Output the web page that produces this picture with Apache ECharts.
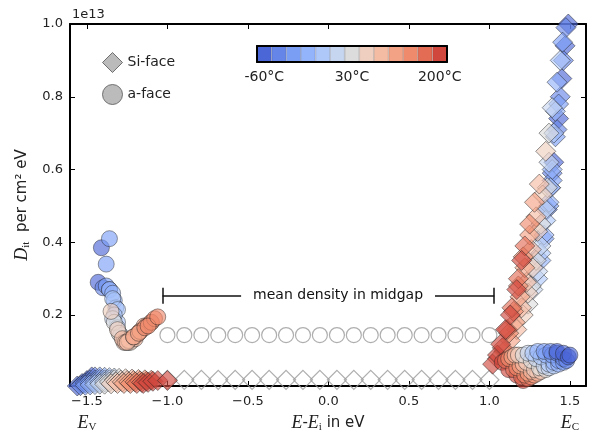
<!DOCTYPE html>
<html>
<head>
<meta charset="utf-8">
<script src="https://cdn.jsdelivr.net/npm/echarts@6/dist/echarts.min.js"></script>
<style>
  html, body { margin: 0; padding: 0; background: #fff; }
  #chart { width: 599px; height: 438px; }
</style>
</head>
<body>
<div id="chart"></div>
<script>
// temperature steps of the colour bar (coolwarm)
const tempLabels = ['-60°C', '-45°C', '-30°C', '-15°C', '0°C', '15°C', '30°C', '60°C', '90°C', '120°C', '150°C', '175°C', '200°C'];
const tempColors = ['#4b66d6', '#6585e8', '#7b9ef5', '#93b3fb', '#aec8fa', '#c6d6f1', '#dcdcdc',
                    '#efcfbf', '#f5bca4', '#f4a285', '#ef8a6c', '#e36c55', '#d0473d'];

// [E - Ei in eV, Dit in 1e13 per cm2 eV, temperature index]
const siFaceLow = [
  [-1.56, 0.005, 0], [-1.53, 0.012, 0], [-1.50, 0.020, 0], [-1.47, 0.030, 0],
  [-1.54, 0.006, 1], [-1.51, 0.013, 1], [-1.48, 0.022, 1], [-1.45, 0.030, 1],
  [-1.51, 0.007, 2], [-1.48, 0.014, 2], [-1.45, 0.022, 2], [-1.42, 0.030, 2],
  [-1.48, 0.008, 3], [-1.45, 0.015, 3], [-1.42, 0.023, 3], [-1.39, 0.029, 3],
  [-1.45, 0.009, 4], [-1.42, 0.015, 4], [-1.39, 0.022, 4], [-1.36, 0.028, 4],
  [-1.42, 0.010, 5], [-1.39, 0.016, 5], [-1.36, 0.022, 5], [-1.33, 0.027, 5],
  [-1.39, 0.010, 6], [-1.36, 0.016, 6], [-1.33, 0.022, 6], [-1.30, 0.026, 6],
  [-1.35, 0.011, 7], [-1.32, 0.016, 7], [-1.29, 0.021, 7], [-1.26, 0.025, 7],
  [-1.31, 0.012, 8], [-1.28, 0.016, 8], [-1.25, 0.020, 8], [-1.22, 0.024, 8],
  [-1.27, 0.012, 9], [-1.24, 0.016, 9], [-1.21, 0.020, 9], [-1.18, 0.023, 9],
  [-1.23, 0.012, 10], [-1.20, 0.016, 10], [-1.17, 0.019, 10], [-1.14, 0.022, 10],
  [-1.19, 0.012, 11], [-1.16, 0.015, 11], [-1.13, 0.018, 11], [-1.10, 0.021, 11],
  [-1.15, 0.012, 12], [-1.12, 0.015, 12], [-1.09, 0.018, 12], [-1.06, 0.020, 12], [-1.00, 0.020, 12]
];
const siFaceHigh = [
  [1.38, 0.55, 0], [1.40, 0.62, 0], [1.43, 0.74, 0], [1.45, 0.85, 0], [1.47, 0.94, 0], [1.49, 1.00, 0],
  [1.36, 0.49, 1], [1.39, 0.59, 1], [1.42, 0.71, 1], [1.44, 0.80, 1], [1.46, 0.90, 1], [1.475, 0.99, 1],
  [1.34, 0.41, 2], [1.37, 0.50, 2], [1.39, 0.57, 2], [1.41, 0.69, 2], [1.43, 0.78, 2], [1.455, 0.95, 2],
  [1.32, 0.35, 3], [1.34, 0.42, 3], [1.37, 0.51, 3], [1.39, 0.60, 3], [1.41, 0.76, 3], [1.42, 0.84, 3],
  [1.30, 0.30, 4], [1.32, 0.37, 4], [1.35, 0.46, 4], [1.38, 0.55, 4], [1.40, 0.70, 4], [1.44, 0.90, 4],
  [1.27, 0.27, 5], [1.30, 0.32, 5], [1.32, 0.39, 5], [1.35, 0.49, 5], [1.37, 0.62, 5], [1.39, 0.77, 5],
  [1.24, 0.23, 6], [1.26, 0.28, 6], [1.29, 0.35, 6], [1.32, 0.45, 6], [1.36, 0.55, 6], [1.37, 0.70, 6],
  [1.21, 0.20, 7], [1.24, 0.26, 7], [1.27, 0.33, 7], [1.30, 0.43, 7], [1.33, 0.53, 7], [1.35, 0.65, 7],
  [1.17, 0.16, 8], [1.20, 0.22, 8], [1.23, 0.29, 8], [1.26, 0.38, 8], [1.29, 0.47, 8], [1.31, 0.56, 8],
  [1.13, 0.13, 9], [1.16, 0.18, 9], [1.19, 0.25, 9], [1.22, 0.33, 9], [1.25, 0.42, 9], [1.28, 0.51, 9],
  [1.09, 0.10, 10], [1.12, 0.15, 10], [1.15, 0.21, 10], [1.18, 0.28, 10], [1.21, 0.36, 10], [1.25, 0.45, 10],
  [1.05, 0.08, 11], [1.08, 0.11, 11], [1.11, 0.16, 11], [1.14, 0.22, 11], [1.18, 0.30, 11], [1.22, 0.39, 11],
  [1.02, 0.065, 12], [1.05, 0.09, 12], [1.07, 0.12, 12], [1.10, 0.16, 12], [1.13, 0.20, 12], [1.17, 0.27, 12], [1.20, 0.35, 12]
];
const aFaceLow = [
  [-1.43, 0.29, 0], [-1.41, 0.385, 0],
  [-1.40, 0.275, 1], [-1.36, 0.41, 2],
  [-1.38, 0.34, 2], [-1.38, 0.28, 2], [-1.36, 0.27, 2],
  [-1.36, 0.27, 3], [-1.34, 0.26, 3], [-1.33, 0.24, 3], [-1.32, 0.22, 3],
  [-1.34, 0.245, 4], [-1.31, 0.215, 4], [-1.31, 0.18, 4], [-1.33, 0.20, 4],
  [-1.34, 0.19, 5], [-1.31, 0.165, 5], [-1.29, 0.145, 5], [-1.27, 0.135, 5], [-1.25, 0.13, 5],
  [-1.33, 0.18, 6], [-1.30, 0.15, 6], [-1.27, 0.13, 6], [-1.24, 0.125, 6], [-1.22, 0.13, 6],
  [-1.35, 0.21, 7], [-1.31, 0.16, 7], [-1.27, 0.125, 7], [-1.23, 0.125, 7], [-1.20, 0.14, 7],
  [-1.28, 0.135, 8], [-1.26, 0.125, 8], [-1.24, 0.13, 8], [-1.20, 0.135, 8], [-1.18, 0.15, 8],
  [-1.25, 0.125, 8], [-1.21, 0.14, 8], [-1.17, 0.155, 9], [-1.145, 0.17, 9],
  [-1.21, 0.14, 9], [-1.17, 0.155, 9], [-1.13, 0.17, 9], [-1.10, 0.18, 9],
  [-1.18, 0.15, 9], [-1.14, 0.165, 10], [-1.10, 0.18, 10], [-1.08, 0.19, 10],
  [-1.12, 0.17, 10], [-1.06, 0.195, 10]
];
const aFaceHigh = [
  [1.08, 0.070, 12], [1.12, 0.050, 12], [1.17, 0.035, 12], [1.21, 0.020, 12],
  [1.10, 0.075, 11], [1.15, 0.050, 11], [1.20, 0.030, 11], [1.24, 0.025, 11],
  [1.12, 0.080, 10], [1.17, 0.055, 10], [1.22, 0.035, 10], [1.26, 0.030, 10],
  [1.14, 0.085, 9], [1.19, 0.060, 9], [1.24, 0.040, 9], [1.28, 0.035, 9],
  [1.16, 0.090, 8], [1.21, 0.065, 8], [1.26, 0.045, 8], [1.30, 0.040, 8],
  [1.18, 0.090, 7], [1.23, 0.070, 7], [1.28, 0.050, 7], [1.32, 0.045, 7],
  [1.21, 0.090, 6], [1.26, 0.075, 6], [1.31, 0.055, 6], [1.35, 0.050, 6],
  [1.24, 0.095, 5], [1.29, 0.080, 5], [1.34, 0.060, 5], [1.37, 0.055, 5],
  [1.27, 0.095, 4], [1.32, 0.085, 4], [1.37, 0.065, 4], [1.40, 0.060, 4],
  [1.30, 0.100, 3], [1.35, 0.090, 3], [1.40, 0.070, 3], [1.43, 0.065, 3],
  [1.34, 0.100, 2], [1.39, 0.090, 2], [1.43, 0.075, 2], [1.46, 0.070, 2],
  [1.38, 0.100, 1], [1.42, 0.095, 1], [1.46, 0.080, 1], [1.48, 0.075, 1],
  [1.42, 0.100, 0], [1.46, 0.095, 0], [1.49, 0.085, 0], [1.50, 0.090, 0]
];

// midgap points (open markers)
const midgapE = [-1.0, -0.895, -0.789, -0.684, -0.579, -0.474, -0.368, -0.263, -0.158, -0.053,
                 0.053, 0.158, 0.263, 0.368, 0.474, 0.579, 0.684, 0.789, 0.895, 1.0];
const midgapCircleD = 0.145;
const midgapDiamondD = 0.022;
const bracketE = [-1.03, 1.03];
const bracketD = 0.253;
const bracketLabelE = 0.06;

const xTicks = [-1.5, -1.0, -0.5, 0, 0.5, 1.0, 1.5];
const yTicks = [0.2, 0.4, 0.6, 0.8, 1.0];
const bandEdges = [-1.5, 1.5];

const font = 'DejaVu Sans';
const serif = 'Liberation Serif';

const chart = echarts.init(document.getElementById('chart'));

function rgba(hex, a) {
  const n = parseInt(hex.slice(1), 16);
  return 'rgba(' + (n >> 16) + ',' + ((n >> 8) & 255) + ',' + (n & 255) + ',' + a + ')';
}
const toItems = rows => rows.map(([e, d, t]) => ({
  value: [e, d],
  itemStyle: { color: rgba(tempColors[t], 0.8) }
}));

const tickStyle = { inside: true, length: 5, lineStyle: { color: '#000', width: 1 } };
const frameLine = { show: true, onZero: false, lineStyle: { color: '#000', width: 2 } };
const mathRich = {
  e: { fontFamily: serif, fontStyle: 'italic', fontSize: 18, color: '#222' },
  s: { fontFamily: serif, fontSize: 11, color: '#222', padding: [8, 0, 0, 0] },
  t: { fontFamily: font, fontSize: 15, color: '#222' }
};

const option = {
  animation: false,
  backgroundColor: '#fff',
  grid: [
    { left: 70, top: 24, width: 516, height: 363 },
    { left: 257, top: 46, width: 190, height: 16 }
  ],
  legend: {
    left: 97, top: 47, orient: 'vertical',
    itemWidth: 20, itemHeight: 20, itemGap: 11, selectedMode: false,
    textStyle: { fontFamily: font, fontSize: 14, color: '#222' },
    data: [
      { name: 'Si-face', icon: 'diamond', itemStyle: { color: '#aaaaaa', borderColor: '#555', borderWidth: 1 } },
      { name: 'a-face', icon: 'circle', itemStyle: { color: '#aaaaaa', borderColor: '#555', borderWidth: 1 } }
    ]
  },
  graphic: [
    { type: 'text', left: 72, top: 8, style: { text: '1e13', fontFamily: font, fontSize: 13, fill: '#222' } }
  ],
  xAxis: [
    {
      type: 'value', gridIndex: 0, min: -1.605, max: 1.6, position: 'bottom',
      axisLine: frameLine,
      axisTick: Object.assign({ customValues: xTicks }, tickStyle),
      axisLabel: {
        customValues: xTicks, margin: 9, fontFamily: font, fontSize: 13, color: '#222',
        formatter: v => v.toFixed(1).replace('-', '\u2212')
      },
      splitLine: { show: false },
      name: '{e|E}{t|-}{e|E}{s|i}{t| in eV}', nameLocation: 'middle', nameGap: 28,
      nameTextStyle: { rich: mathRich }
    },
    {
      type: 'value', gridIndex: 0, min: -1.605, max: 1.6, position: 'top',
      axisLine: frameLine,
      axisTick: Object.assign({ customValues: xTicks }, tickStyle),
      axisLabel: { show: false }, splitLine: { show: false }
    },
    {
      type: 'value', gridIndex: 0, min: -1.605, max: 1.6, position: 'bottom', offset: 20,
      axisLine: { show: false, onZero: false }, axisTick: { show: false }, splitLine: { show: false },
      axisLabel: {
        customValues: bandEdges, margin: 8,
        formatter: v => (v < 0 ? '{e|E}{s|V}' : '{e|E}{s|C}'),
        rich: mathRich
      }
    },
    {
      type: 'category', gridIndex: 1, data: tempLabels, position: 'bottom', z: 10,
      axisLine: frameLine,
      axisTick: { show: false },
      axisLabel: { interval: i => i % 6 === 0, margin: 8, fontFamily: font, fontSize: 14, color: '#222' }
    },
    {
      type: 'category', gridIndex: 1, data: tempLabels, position: 'top', z: 10,
      axisLine: frameLine,
      axisTick: { show: false }, axisLabel: { show: false }
    }
  ],
  yAxis: [
    {
      type: 'value', gridIndex: 0, min: 0.005, max: 1.0, position: 'left',
      axisLine: frameLine,
      axisTick: Object.assign({ show: true, customValues: yTicks }, tickStyle),
      axisLabel: {
        customValues: yTicks, margin: 7, fontFamily: font, fontSize: 13, color: '#222',
        formatter: v => v.toFixed(1)
      },
      splitLine: { show: false },
      name: '{e|D}{s|it}{t|  per cm² eV}', nameLocation: 'middle', nameGap: 27, nameRotate: 90,
      nameTextStyle: { rich: mathRich }
    },
    {
      type: 'value', gridIndex: 0, min: 0.005, max: 1.0, position: 'right',
      axisLine: frameLine,
      axisTick: Object.assign({ show: true, customValues: yTicks }, tickStyle),
      axisLabel: { show: false }, splitLine: { show: false }
    },
    {
      type: 'value', gridIndex: 1, min: 0, max: 1, position: 'left', z: 10,
      axisLine: frameLine,
      axisTick: { show: false }, axisLabel: { show: false }, splitLine: { show: false }
    },
    {
      type: 'value', gridIndex: 1, min: 0, max: 1, position: 'right', z: 10,
      axisLine: frameLine,
      axisTick: { show: false }, axisLabel: { show: false }, splitLine: { show: false }
    }
  ],
  series: [
    {
      name: 'midgap a', type: 'scatter', xAxisIndex: 0, yAxisIndex: 0, silent: true,
      symbol: 'circle', symbolSize: 15,
      data: midgapE.map(e => [e, midgapCircleD]),
      itemStyle: { color: 'rgba(255,255,255,0)', borderColor: '#9a9a9a', borderWidth: 1.2 }
    },
    {
      name: 'midgap Si', type: 'scatter', xAxisIndex: 0, yAxisIndex: 0, silent: true,
      symbol: 'diamond', symbolSize: 19,
      data: midgapE.map(e => [e, midgapDiamondD]),
      itemStyle: { color: 'rgba(255,255,255,0)', borderColor: '#9a9a9a', borderWidth: 1.2 }
    },
    {
      name: 'Si-face', type: 'scatter', xAxisIndex: 0, yAxisIndex: 0, silent: true,
      symbol: 'diamond', symbolSize: 20, clip: false,
      data: toItems(siFaceLow.concat(siFaceHigh)),
      itemStyle: { color: '#aaaaaa', borderColor: 'rgba(30,30,30,0.6)', borderWidth: 1 }
    },
    {
      name: 'a-face', type: 'scatter', xAxisIndex: 0, yAxisIndex: 0, silent: true,
      symbol: 'circle', symbolSize: 16, clip: false,
      data: toItems(aFaceLow.concat(aFaceHigh)),
      itemStyle: { color: '#aaaaaa', borderColor: 'rgba(30,30,30,0.55)', borderWidth: 1 }
    },
    {
      name: 'bracket', type: 'scatter', xAxisIndex: 0, yAxisIndex: 0, silent: true, z: 5,
      symbolSize: 0,
      data: [[bracketLabelE, bracketD]],
      label: {
        show: true, position: 'inside', formatter: 'mean density in midgap',
        fontFamily: font, fontSize: 14, color: '#111', opacity: 1,
        textBorderWidth: 0, backgroundColor: '#fff', padding: [2, 12]
      },
      markLine: {
        silent: true, symbol: 'none', label: { show: false },
        lineStyle: { color: '#111', width: 1.5, type: 'solid' },
        data: [
          [{ coord: [bracketE[0], bracketD - 0.022] }, { coord: [bracketE[0], bracketD + 0.022] }],
          [{ coord: [bracketE[0], bracketD] }, { coord: [bracketE[1], bracketD] }],
          [{ coord: [bracketE[1], bracketD - 0.022] }, { coord: [bracketE[1], bracketD + 0.022] }]
        ]
      }
    },
    {
      name: 'colorbar', type: 'bar', xAxisIndex: 3, yAxisIndex: 2, silent: true, z: 1,
      barCategoryGap: '0%',
      data: tempColors.map(c => ({ value: 1, itemStyle: { color: c } })),
      itemStyle: { borderColor: 'rgba(0,0,0,0.25)', borderWidth: 0.6 }
    }
  ]
};

chart.setOption(option);
</script>
</body>
</html>
